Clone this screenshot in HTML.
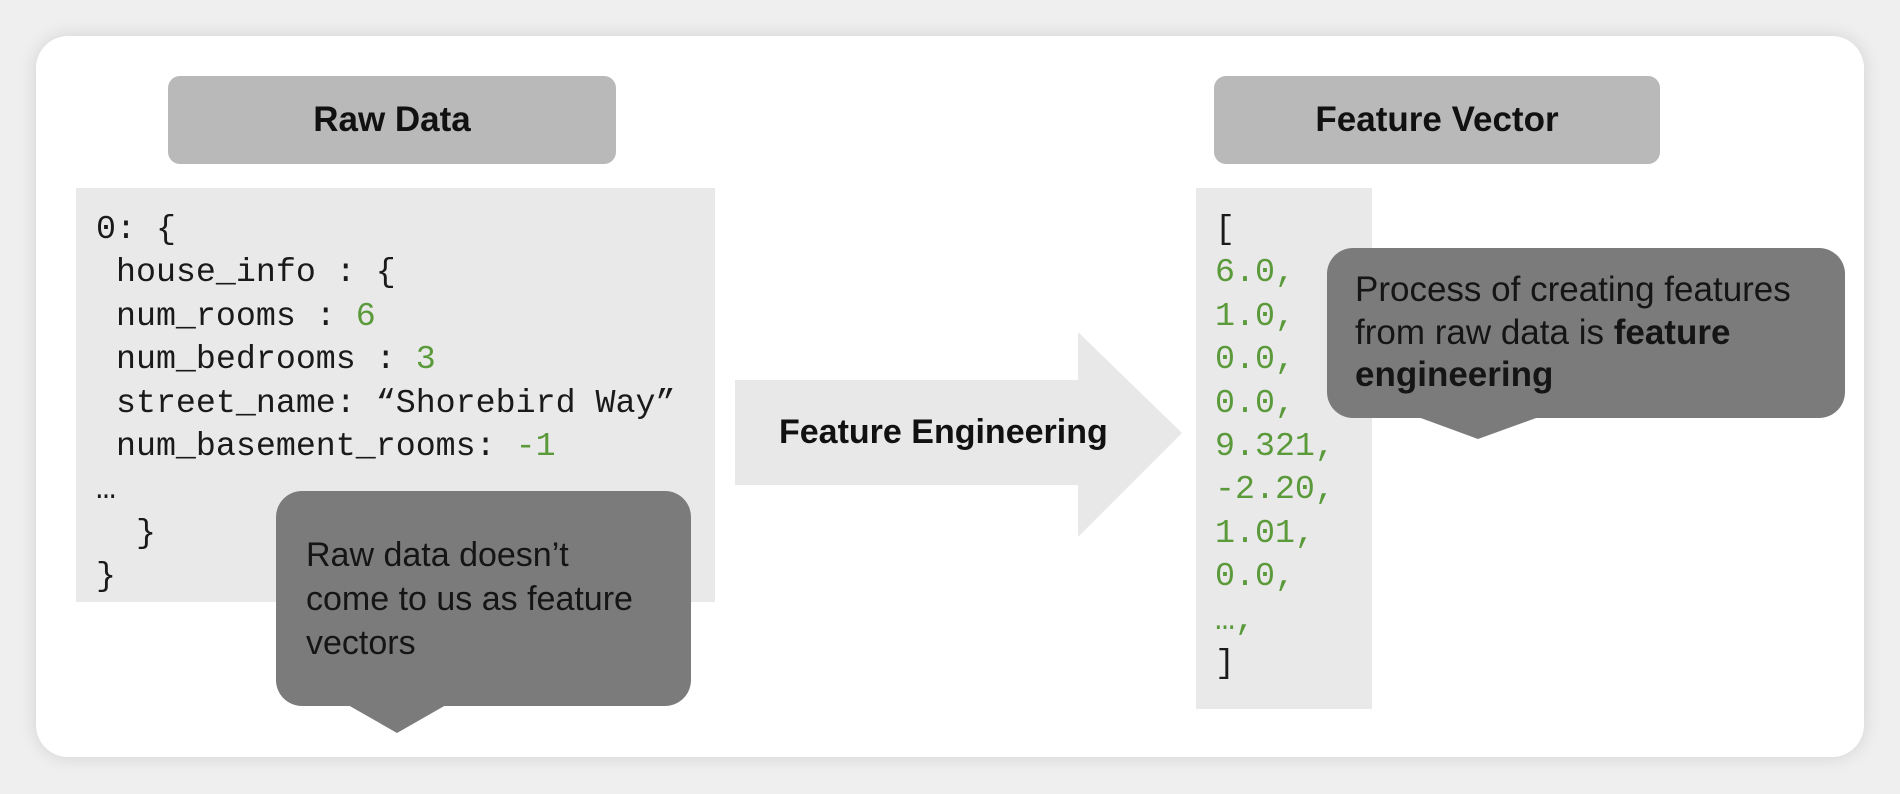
<!DOCTYPE html>
<html><head><meta charset="utf-8"><style>
*{margin:0;padding:0;box-sizing:border-box}
body{width:1900px;height:794px;background:#efefef;position:relative;overflow:hidden;font-family:"Liberation Sans",sans-serif}
.card{position:absolute;left:36px;top:36px;width:1828px;height:721px;background:#fff;border-radius:32px;box-shadow:0 0 18px rgba(0,0,0,0.12)}
.hdr{position:absolute;background:#b9b9b9;border-radius:12px;font-weight:bold;font-size:35px;color:#111;display:flex;align-items:center;justify-content:center}
.box{position:absolute;background:#e9e9e9}
.code{position:absolute;font-family:"Liberation Mono",monospace;font-size:33.3px;color:#1a1a1a;line-height:43.4px;white-space:pre}
.g{color:#5a9a3a}
.bub{position:absolute;background:#7b7b7b;border-radius:26px;color:#151515}
.t{position:absolute;width:0;height:0;border-left:49px solid transparent;border-right:49px solid transparent;border-top:28px solid #7b7b7b}
</style></head><body>
<div class="card"></div>
<div class="hdr" style="left:168px;top:76px;width:448px;height:88px">Raw Data</div>
<div class="hdr" style="left:1214px;top:76px;width:446px;height:88px">Feature Vector</div>
<div class="box" style="left:76px;top:188px;width:639px;height:414px"></div>
<div class="code" style="left:96px;top:208px">0: {
 house_info : {
 num_rooms : <span class="g">6</span>
 num_bedrooms : <span class="g">3</span>
 street_name: “Shorebird Way”
 num_basement_rooms: <span class="g">-1</span>
…
  }
}</div>
<div class="box" style="left:1196px;top:188px;width:176px;height:521px"></div>
<div class="code" style="left:1215px;top:208px">[
<span class="g">6.0,
1.0,
0.0,
0.0,
9.321,
-2.20,
1.01,
0.0,
…,</span>
]</div>
<svg style="position:absolute;left:0;top:0" width="1900" height="794"><polygon points="735,380 1078,380 1078,332 1182,433 1078,537 1078,485 735,485" fill="#e8e8e8"/></svg>
<div style="position:absolute;left:779px;top:413px;font-weight:bold;font-size:34px;color:#111">Feature Engineering</div>
<div class="bub" style="left:276px;top:491px;width:415px;height:215px;padding:42px 0 0 30px;font-size:34px;line-height:44px">Raw data doesn’t<br>come to us as feature<br>vectors</div>
<div class="t" style="left:348px;top:705px"></div>
<div class="bub" style="left:1327px;top:248px;width:518px;height:170px;padding:21px 0 0 28px;font-size:35px;line-height:42.5px">Process of creating features<br>from raw data is <b>feature<br>engineering</b></div>
<div class="t" style="left:1418px;top:417px;border-left-width:60px;border-right-width:61px;border-top-width:22px"></div>
</body></html>
